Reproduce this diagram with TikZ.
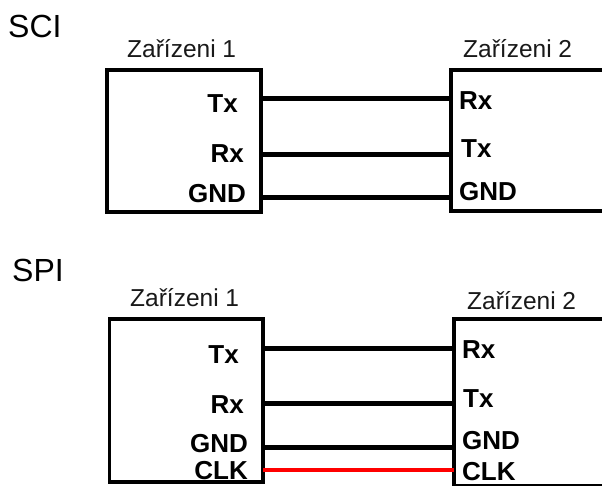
\documentclass[tikz,border=0pt]{standalone}
\usepackage{fontspec}
\setmainfont{Liberation Sans}
\tikzset{
  devbox/.style={draw=black, line width=3.5pt, fill=none, rectangle, inner sep=0pt, outer sep=0pt},
  title/.style={font=\fontsize{32}{37}\selectfont, anchor=base west, inner sep=0pt},
  devname/.style={font=\fontsize{24.5}{29}\selectfont, anchor=base west, inner sep=0pt, text=black!90},
  pinL/.style={font=\bfseries\fontsize{26}{31}\selectfont, anchor=base east, inner sep=0pt},
  pinR/.style={font=\bfseries\fontsize{26}{31}\selectfont, anchor=base west, inner sep=0pt},
  wire/.style={draw=black, line width=4.5pt},
  clkwire/.style={draw=red, line width=4pt},
}
\begin{document}
\begin{tikzpicture}[x=1pt,y=-1pt]
\useasboundingbox (0,0) rectangle (602,486);
\clip (0,0) rectangle (602,486);

% ---------- SCI ----------
\node[title] (sci) at (8,38) {SCI};
\node[devbox, minimum width=154pt, minimum height=142pt] (sciA) at (184,141) {};
\node[devbox, minimum width=249pt, minimum height=141pt] (sciB) at (575.5,140.5) {};
\node[devname] (sciAname) at (127,58) {Zařízeni 1};
\node[devname] (sciBname) at (463,58) {Zařízeni 2};

\node[pinL] (sciAtx)  at (238,113) {Tx};
\node[pinL] (sciArx)  at (244,163) {Rx};
\node[pinL] (sciAgnd) at (246,203) {GND};
\node[pinR] (sciBrx)  at (459,110) {Rx};
\node[pinR] (sciBtx)  at (461,158) {Tx};
\node[pinR] (sciBgnd) at (459,201) {GND};

\coordinate (sA1) at (261,98.5);  \coordinate (sB1) at (451,98.5);
\coordinate (sA2) at (261,154.5); \coordinate (sB2) at (451,154.5);
\coordinate (sA3) at (261,197.5); \coordinate (sB3) at (451,197.5);
\draw[wire] (sA1) -- (sB1);
\draw[wire] (sA2) -- (sB2);
\draw[wire] (sA3) -- (sB3);

% ---------- SPI ----------
\node[title] (spi) at (12,282) {SPI};
\node[devbox, minimum width=153.5pt, minimum height=163pt] (spiA) at (186.25,400.5) {};
\node[devbox, minimum width=246pt, minimum height=167pt] (spiB) at (577,402.5) {};
\node[devname] (spiAname) at (130,306) {Zařízeni 1};
\node[devname] (spiBname) at (467,309) {Zařízeni 2};

\node[pinL] (spiAtx)  at (239,363) {Tx};
\node[pinL] (spiArx)  at (244,413) {Rx};
\node[pinL] (spiAgnd) at (248,452) {GND};
\node[pinL] (spiAclk) at (248,479) {CLK};
\node[pinR] (spiBrx)  at (462,358) {Rx};
\node[pinR] (spiBtx)  at (463,407) {Tx};
\node[pinR] (spiBgnd) at (462,449) {GND};
\node[pinR] (spiBclk) at (462,480) {CLK};

\coordinate (pA1) at (263,348.7); \coordinate (pB1) at (454,348.7);
\coordinate (pA2) at (263,403.3); \coordinate (pB2) at (454,403.3);
\coordinate (pA3) at (263,447.3); \coordinate (pB3) at (454,447.3);
\coordinate (pA4) at (263,470);   \coordinate (pB4) at (454,470);
\draw[wire] (pA1) -- (pB1);
\draw[wire] (pA2) -- (pB2);
\draw[wire] (pA3) -- (pB3);
\draw[clkwire] (pA4) -- (pB4);
\end{tikzpicture}
\end{document}
